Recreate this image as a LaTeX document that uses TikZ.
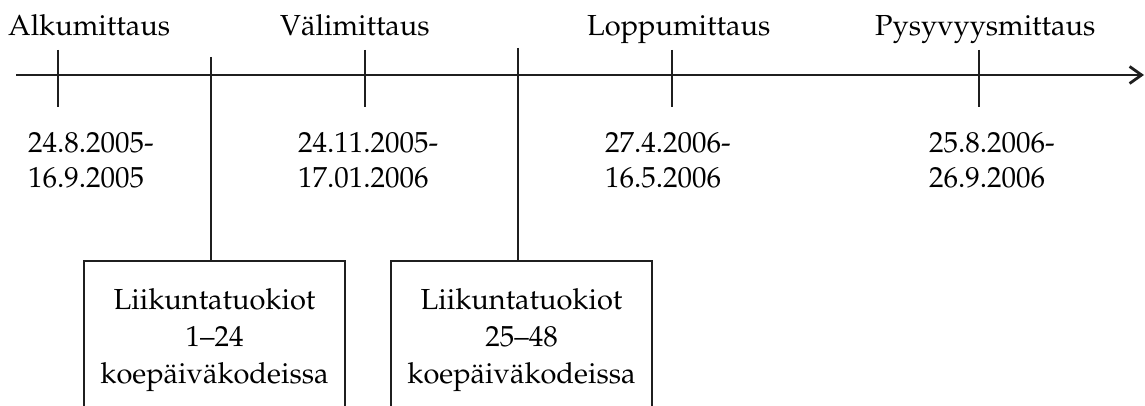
\documentclass[tikz,border=0pt]{standalone}
\usepackage[T1]{fontenc}
\usepackage{mathpazo}
\usetikzlibrary{arrows.meta}
\begin{document}
\begin{tikzpicture}[x=1pt,y=1pt,
  lbl/.style={inner sep=0pt,anchor=base west,font=\fontsize{29}{35}\selectfont},
  datelbl/.style={inner sep=0pt,anchor=base west,align=left,font=\fontsize{29}{35}\selectfont},
  axisline/.style={line width=2.8pt,color=black!88},
  tickline/.style={line width=2.7pt,color=black!88},
  boxnode/.style={draw=black!88,line width=2.2pt,minimum width=261pt,minimum height=158pt,inner sep=0pt,align=center,font=\fontsize{29}{37}\selectfont}
]
\useasboundingbox (0,0) rectangle (1145,-406);
\clip (0,0) rectangle (1145,-406);
% axis
\coordinate (axs) at (16,-75);
\coordinate (axe) at (1144,-75);
\draw[axisline,-{Straight Barb[length=12pt,width=17pt,line width=2.8pt]}] (axs) -- (axe);
% ticks
\foreach \n/\x in {t1/58,t2/365,t3/672,t4/979}{
  \coordinate (\n a) at (\x,-50);
  \coordinate (\n b) at (\x,-107);
  \draw[tickline] (\n a) -- (\n b);
}
% labels
\node[lbl] (l1) at (8,-36) {Alkumittaus};
\node[lbl] (l2) at (280,-36) {V\"alimittaus};
\node[lbl] (l3) at (587,-36) {Loppumittaus};
\node[lbl] (l4) at (875,-36) {Pysyvyysmittaus};
% dates (anchor = baseline of the last line)
\node[datelbl] (d1) at (28,-187) {24.8.2005-\\16.9.2005};
\node[datelbl] (d2) at (298,-187) {24.11.2005-\\17.01.2006};
\node[datelbl] (d3) at (605,-187) {27.4.2006-\\16.5.2006};
\node[datelbl] (d4) at (929,-187) {25.8.2006-\\26.9.2006};
% boxes
\node[boxnode] (b1) at (214.5,-340) {Liikuntatuokiot\\1--24\\koep\"aiv\"akodeissa};
\node[boxnode] (b2) at (521.5,-340) {Liikuntatuokiot\\25--48\\koep\"aiv\"akodeissa};
% connectors
\coordinate (c1) at (211,-57);
\coordinate (c2) at (518,-48);
\draw[tickline] (c1) -- (c1 |- b1.north);
\draw[tickline] (c2) -- (c2 |- b2.north);
\end{tikzpicture}
\end{document}
